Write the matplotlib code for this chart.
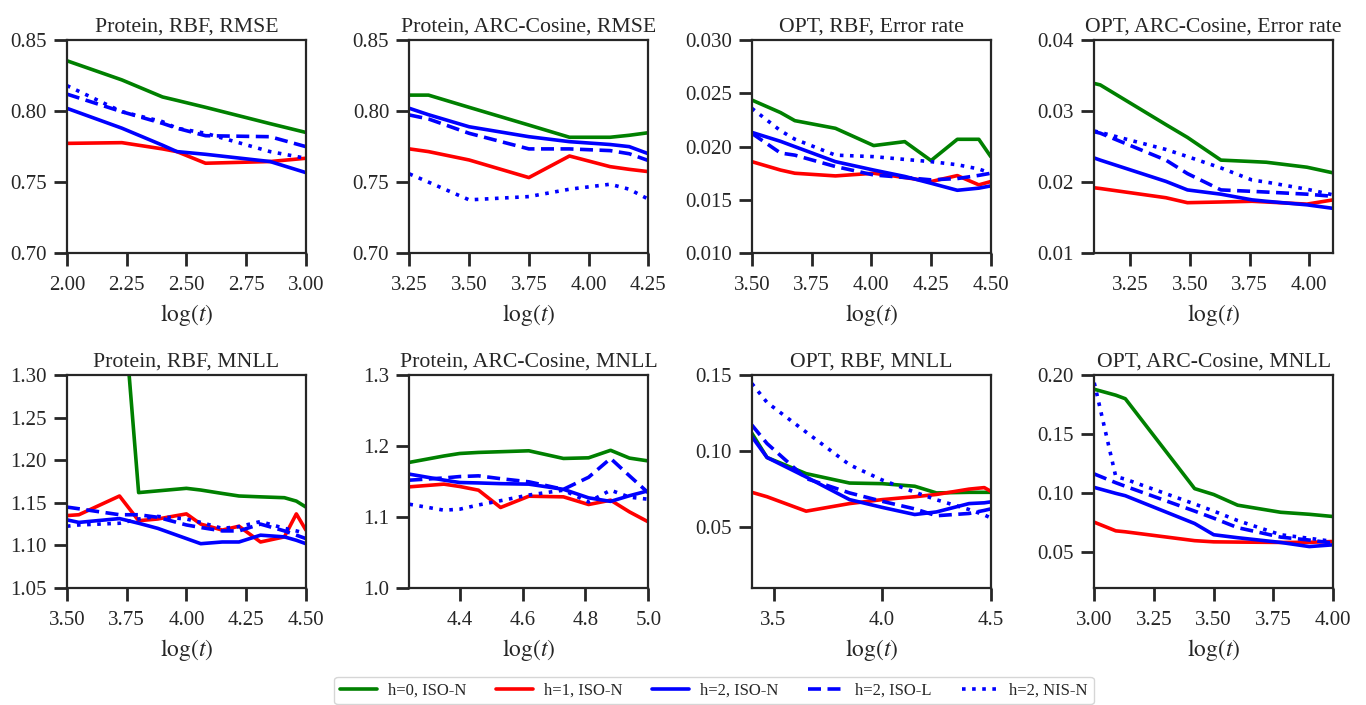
import matplotlib
matplotlib.use("Agg")
import matplotlib.pyplot as plt
import seaborn as sns
from matplotlib.ticker import FormatStrFormatter

# ---- data ------------------------------------------------------------------
labels = ["h=0, ISO-N", "h=1, ISO-N", "h=2, ISO-N", "h=2, ISO-L", "h=2, NIS-N"]

# Protein, RBF, RMSE
x_p_rbf_rmse = [2.00, 2.23, 2.40, 2.46, 2.58, 2.85, 3.00]
p_rbf_rmse_h0 = [0.8355, 0.822, 0.810, 0.8076, 0.8027, 0.7912, 0.785]
p_rbf_rmse_h1 = [0.7773, 0.7778, 0.7734, 0.7715, 0.7633, 0.7645, 0.7668]
p_rbf_rmse_h2 = [0.802, 0.788, 0.776, 0.7715, 0.7696, 0.7645, 0.7567]
p_rbf_rmse_h2l = [0.812, 0.7996, 0.7914, 0.788, 0.7827, 0.782, 0.775]
p_rbf_rmse_h2n = [0.818, 0.7996, 0.7926, 0.788, 0.7844, 0.7715, 0.7668]

# Protein, ARC-Cosine, RMSE
x_p_arc_rmse = [3.25, 3.33, 3.50, 3.75, 3.92, 4.09, 4.17, 4.25]
p_arc_rmse_h0 = [0.8113, 0.8113, 0.8027, 0.7902, 0.7816, 0.7816, 0.7830, 0.7848]
p_arc_rmse_h1 = [0.7734, 0.7715, 0.7656, 0.7532, 0.7684, 0.7609, 0.7590, 0.7574]
p_arc_rmse_h2 = [0.802, 0.7975, 0.789, 0.782, 0.7785, 0.7765, 0.775, 0.770]
p_arc_rmse_h2l = [0.7973, 0.7945, 0.7844, 0.7734, 0.7734, 0.7722, 0.770, 0.7652]
p_arc_rmse_h2n = [0.7558, 0.750, 0.7375, 0.7398, 0.745, 0.7485, 0.745, 0.738]

# OPT, RBF, Error rate
x_o_rbf_err = [3.50, 3.62, 3.68, 3.85, 4.01, 4.14, 4.25, 4.36, 4.45, 4.50]
o_rbf_err_h0 = [0.02438, 0.0232, 0.02244, 0.02172, 0.0201, 0.02047, 0.01869, 0.02069, 0.02069, 0.01906]
o_rbf_err_h1 = [0.01859, 0.0178, 0.0175, 0.01725, 0.0175, 0.0171, 0.01672, 0.01728, 0.01641, 0.01672]
o_rbf_err_h2 = [0.02134, 0.0205, 0.0200, 0.01859, 0.0178, 0.0172, 0.01656, 0.0159, 0.0161, 0.01631]
o_rbf_err_h2l = [0.02125, 0.0194, 0.0192, 0.01813, 0.01734, 0.0171, 0.01688, 0.0170, 0.0173, 0.0175]
o_rbf_err_h2n = [0.0236, 0.0215, 0.0207, 0.0192, 0.01906, 0.0188, 0.01859, 0.0183, 0.0179, 0.0175]

# OPT, ARC-Cosine, Error rate
x_o_arc_err = [3.10, 3.125, 3.40, 3.49, 3.63, 3.76, 3.82, 3.99, 4.10]
o_arc_err_h0 = [0.0339, 0.0337, 0.0281, 0.0263, 0.0231, 0.0229, 0.0228, 0.0221, 0.0213]
o_arc_err_h1 = [0.0192, 0.0191, 0.0178, 0.0171, 0.0172, 0.0173, 0.0172, 0.0169, 0.0175]
o_arc_err_h2 = [0.0234, 0.0231, 0.0201, 0.0189, 0.0183, 0.0175, 0.0173, 0.0168, 0.0163]
o_arc_err_h2l = [0.0271, 0.0269, 0.0231, 0.0212, 0.0189, 0.0187, 0.0186, 0.0183, 0.0180]
o_arc_err_h2n = [0.0272, 0.0270, 0.0246, 0.0236, 0.0220, 0.0203, 0.0200, 0.0190, 0.0182]

# Protein, RBF, MNLL
x_p_rbf_mnll = [3.50, 3.55, 3.72, 3.80, 3.88, 4.00, 4.06, 4.15, 4.22, 4.31, 4.41, 4.46, 4.50]
p_rbf_mnll_h0 = [1.70, 1.60, 1.44, 1.162, 1.164, 1.167, 1.165, 1.161, 1.158, 1.157, 1.156, 1.152, 1.145]
p_rbf_mnll_h1 = [1.135, 1.136, 1.158, 1.129, 1.131, 1.137, 1.125, 1.118, 1.1225, 1.104, 1.110, 1.137, 1.118]
p_rbf_mnll_h2 = [1.130, 1.127, 1.1315, 1.126, 1.120, 1.108, 1.102, 1.104, 1.104, 1.112, 1.110, 1.106, 1.102]
p_rbf_mnll_h2l = [1.145, 1.143, 1.136, 1.136, 1.133, 1.124, 1.121, 1.117, 1.117, 1.125, 1.117, 1.112, 1.108]
p_rbf_mnll_h2n = [1.1225, 1.124, 1.126, 1.131, 1.134, 1.131, 1.127, 1.120, 1.122, 1.128, 1.120, 1.117, 1.114]

# Protein, ARC-Cosine, MNLL
x_p_arc_mnll = [4.24, 4.35, 4.40, 4.46, 4.53, 4.62, 4.73, 4.81, 4.88, 4.94, 5.00]
p_arc_mnll_h0 = [1.177, 1.186, 1.1895, 1.191, 1.192, 1.1933, 1.1825, 1.1834, 1.194, 1.183, 1.179]
p_arc_mnll_h1 = [1.1425, 1.1463, 1.143, 1.1378, 1.1134, 1.1293, 1.1284, 1.1176, 1.1237, 1.1072, 1.0931]
p_arc_mnll_h2 = [1.1604, 1.152, 1.1486, 1.148, 1.147, 1.1463, 1.139, 1.127, 1.122, 1.130, 1.137]
p_arc_mnll_h2l = [1.1519, 1.155, 1.157, 1.158, 1.154, 1.1496, 1.139, 1.156, 1.1825, 1.158, 1.134]
p_arc_mnll_h2n = [1.118, 1.1096, 1.111, 1.117, 1.123, 1.131, 1.1378, 1.1213, 1.1378, 1.128, 1.125]

# OPT, RBF, MNLL
x_o_rbf_mnll = [3.40, 3.47, 3.65, 3.85, 4.00, 4.15, 4.25, 4.40, 4.47, 4.50]
o_rbf_mnll_h0 = [0.1118, 0.0958, 0.0852, 0.079, 0.0786, 0.0769, 0.0725, 0.0729, 0.0729, 0.0729]
o_rbf_mnll_h1 = [0.0729, 0.070, 0.0605, 0.0655, 0.0681, 0.0700, 0.0715, 0.0750, 0.0760, 0.0736]
o_rbf_mnll_h2 = [0.1096, 0.0958, 0.0830, 0.0681, 0.0630, 0.0583, 0.0600, 0.0655, 0.066, 0.0666]
o_rbf_mnll_h2l = [0.1172, 0.105, 0.082, 0.0725, 0.067, 0.0620, 0.0575, 0.0590, 0.061, 0.062]
o_rbf_mnll_h2n = [0.1445, 0.132, 0.1125, 0.0910, 0.0810, 0.0730, 0.068, 0.0616, 0.058, 0.0561]

# OPT, ARC-Cosine, MNLL
x_o_arc_mnll = [3.00, 3.09, 3.13, 3.42, 3.50, 3.60, 3.78, 3.90, 4.00]
o_arc_mnll_h0 = [0.188, 0.183, 0.180, 0.104, 0.099, 0.090, 0.084, 0.0823, 0.0804]
o_arc_mnll_h1 = [0.0756, 0.0683, 0.0675, 0.0600, 0.0590, 0.0588, 0.0585, 0.0586, 0.0593]
o_arc_mnll_h2 = [0.105, 0.100, 0.098, 0.0745, 0.0650, 0.0625, 0.0585, 0.055, 0.0565]
o_arc_mnll_h2l = [0.1164, 0.109, 0.106, 0.085, 0.079, 0.071, 0.063, 0.0605, 0.0579]
o_arc_mnll_h2n = [0.1935, 0.1142, 0.112, 0.091, 0.085, 0.077, 0.065, 0.062, 0.0593]

# ---- styling ---------------------------------------------------------------
sns.set_style("ticks")
plt.rcParams["font.family"] = ["Liberation Serif", "DejaVu Serif"]
plt.rcParams["mathtext.fontset"] = "stix"

line_styles = [
    dict(color="#008000", ls="-"),
    dict(color="#ff0000", ls="-"),
    dict(color="#0000ff", ls="-"),
    dict(color="#0000ff", ls=(0, (3.6, 1.8))),
    dict(color="#0000ff", ls=(0, (1, 1.8))),
]

panels = [
    ("Protein, RBF, RMSE", x_p_rbf_rmse,
     [p_rbf_rmse_h0, p_rbf_rmse_h1, p_rbf_rmse_h2, p_rbf_rmse_h2l, p_rbf_rmse_h2n],
     (2.0, 3.0), [2.0, 2.25, 2.5, 2.75, 3.0], "%.2f",
     (0.70, 0.85), [0.70, 0.75, 0.80, 0.85], "%.2f"),
    ("Protein, ARC-Cosine, RMSE", x_p_arc_rmse,
     [p_arc_rmse_h0, p_arc_rmse_h1, p_arc_rmse_h2, p_arc_rmse_h2l, p_arc_rmse_h2n],
     (3.25, 4.25), [3.25, 3.5, 3.75, 4.0, 4.25], "%.2f",
     (0.70, 0.85), [0.70, 0.75, 0.80, 0.85], "%.2f"),
    ("OPT, RBF, Error rate", x_o_rbf_err,
     [o_rbf_err_h0, o_rbf_err_h1, o_rbf_err_h2, o_rbf_err_h2l, o_rbf_err_h2n],
     (3.5, 4.5), [3.5, 3.75, 4.0, 4.25, 4.5], "%.2f",
     (0.010, 0.030), [0.010, 0.015, 0.020, 0.025, 0.030], "%.3f"),
    ("OPT, ARC-Cosine, Error rate", x_o_arc_err,
     [o_arc_err_h0, o_arc_err_h1, o_arc_err_h2, o_arc_err_h2l, o_arc_err_h2n],
     (3.10, 4.10), [3.25, 3.5, 3.75, 4.0], "%.2f",
     (0.01, 0.04), [0.01, 0.02, 0.03, 0.04], "%.2f"),
    ("Protein, RBF, MNLL", x_p_rbf_mnll,
     [p_rbf_mnll_h0, p_rbf_mnll_h1, p_rbf_mnll_h2, p_rbf_mnll_h2l, p_rbf_mnll_h2n],
     (3.5, 4.5), [3.5, 3.75, 4.0, 4.25, 4.5], "%.2f",
     (1.05, 1.30), [1.05, 1.10, 1.15, 1.20, 1.25, 1.30], "%.2f"),
    ("Protein, ARC-Cosine, MNLL", x_p_arc_mnll,
     [p_arc_mnll_h0, p_arc_mnll_h1, p_arc_mnll_h2, p_arc_mnll_h2l, p_arc_mnll_h2n],
     (4.24, 5.0), [4.4, 4.6, 4.8, 5.0], "%.1f",
     (1.0, 1.3), [1.0, 1.1, 1.2, 1.3], "%.1f"),
    ("OPT, RBF, MNLL", x_o_rbf_mnll,
     [o_rbf_mnll_h0, o_rbf_mnll_h1, o_rbf_mnll_h2, o_rbf_mnll_h2l, o_rbf_mnll_h2n],
     (3.40, 4.5), [3.5, 4.0, 4.5], "%.1f",
     (0.01, 0.15), [0.05, 0.10, 0.15], "%.2f"),
    ("OPT, ARC-Cosine, MNLL", x_o_arc_mnll,
     [o_arc_mnll_h0, o_arc_mnll_h1, o_arc_mnll_h2, o_arc_mnll_h2l, o_arc_mnll_h2n],
     (3.0, 4.0), [3.0, 3.25, 3.5, 3.75, 4.0], "%.2f",
     (0.02, 0.20), [0.05, 0.10, 0.15, 0.20], "%.2f"),
]

fig, axes = plt.subplots(2, 4, figsize=(13.66, 7.05), dpi=100)
fig.subplots_adjust(left=0.049, right=0.976, top=0.943, bottom=0.166,
                    wspace=0.433, hspace=0.573)

for ax, (title, xs, ys, xlim, xticks, xfmt, ylim, yticks, yfmt) in zip(axes.flat, panels):
    for y, st, lab in zip(ys, line_styles, labels):
        ax.plot(xs, y, color=st["color"], linestyle=st["ls"], lw=2.6, label=lab)
    ax.set_xlim(*xlim)
    ax.set_ylim(*ylim)
    ax.set_xticks(xticks)
    ax.set_yticks(yticks)
    ax.xaxis.set_major_formatter(FormatStrFormatter(xfmt))
    ax.yaxis.set_major_formatter(FormatStrFormatter(yfmt))
    ax.set_title(title, fontsize=15.7, pad=6, color="#262626")
    ax.set_xlabel(r"$\log(t)$", fontsize=17, color="#262626", labelpad=5)
    ax.tick_params(direction="out", length=9.5, width=2, pad=5,
                   labelsize=15, colors="#262626")
    ax.tick_params(axis="x", pad=7)
    for sp in ax.spines.values():
        sp.set_linewidth(1.6)
        sp.set_color("#262626")

handles, labs = axes[0, 0].get_legend_handles_labels()
fig.legend(handles, labs, loc="lower center", bbox_to_anchor=(0.5227, -0.004),
           ncol=5, fontsize=12, frameon=True, handlelength=2.2,
           handletextpad=0.65, columnspacing=1.8, borderpad=0.35,
           borderaxespad=0.2)

fig.savefig("out.png", dpi=100)
